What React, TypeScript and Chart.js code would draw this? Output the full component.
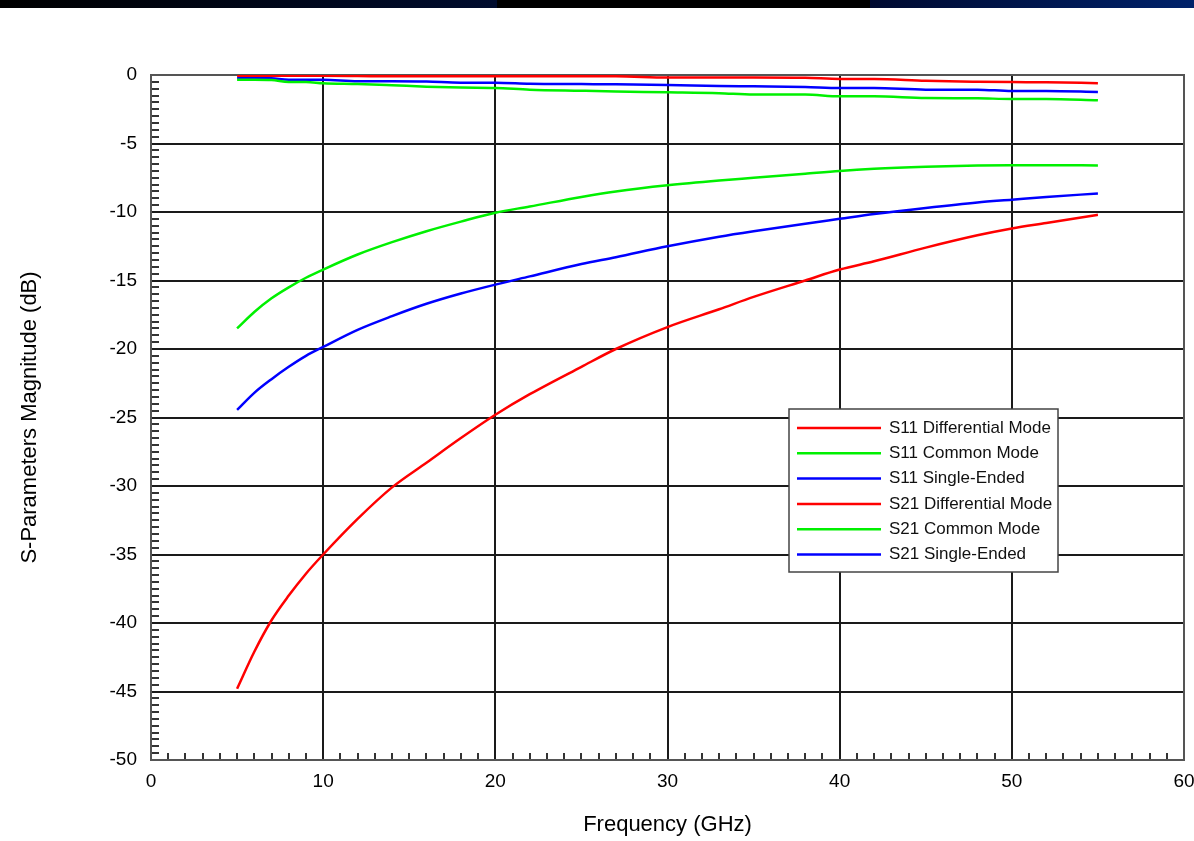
import React, { useEffect, useRef } from "react";
import { Chart, registerables } from "chart.js";

Chart.register(...registerables);

const FREQ = [5, 6, 7, 8, 9, 10, 12, 14, 16, 18, 20, 22, 25, 27, 30, 33, 35, 38, 40, 42, 45, 48, 50, 52, 55];

const S11_DIFF = [-0.05, -0.05, -0.05, -0.05, -0.05, -0.05, -0.07, -0.1, -0.1, -0.1, -0.1, -0.1, -0.1, -0.1, -0.18, -0.18, -0.18, -0.2, -0.29, -0.29, -0.42, -0.49, -0.52, -0.53, -0.6];
const S11_COMMON = [-0.34, -0.34, -0.36, -0.51, -0.51, -0.6, -0.66, -0.75, -0.85, -0.92, -0.95, -1.07, -1.15, -1.2, -1.26, -1.33, -1.43, -1.43, -1.56, -1.56, -1.68, -1.7, -1.75, -1.75, -1.85];
const S11_SINGLE = [-0.22, -0.22, -0.24, -0.34, -0.34, -0.34, -0.46, -0.46, -0.48, -0.56, -0.56, -0.63, -0.66, -0.68, -0.73, -0.8, -0.83, -0.88, -0.95, -0.95, -1.07, -1.07, -1.17, -1.17, -1.24];
const S21_DIFF = [-44.8, -42.1, -39.8, -38.0, -36.4, -35.0, -32.4, -30.1, -28.3, -26.5, -24.8, -23.3, -21.3, -20.0, -18.4, -17.1, -16.2, -15.0, -14.2, -13.6, -12.6, -11.7, -11.2, -10.8, -10.2];
const S21_COMMON = [-18.5, -17.3, -16.3, -15.5, -14.8, -14.2, -13.1, -12.2, -11.4, -10.7, -10.05, -9.6, -8.9, -8.5, -8.05, -7.7, -7.5, -7.2, -7.0, -6.85, -6.7, -6.6, -6.58, -6.58, -6.6];
const S21_SINGLE = [-24.45, -23.2, -22.2, -21.3, -20.5, -19.85, -18.6, -17.6, -16.7, -15.95, -15.3, -14.7, -13.8, -13.3, -12.5, -11.8, -11.4, -10.85, -10.5, -10.15, -9.7, -9.3, -9.1, -8.9, -8.65];

const SERIES_LABELS = [
  "S11 Differential Mode",
  "S11 Common Mode",
  "S11 Single-Ended",
  "S21 Differential Mode",
  "S21 Common Mode",
  "S21 Single-Ended",
];
const SERIES_VALUES = [S11_DIFF, S11_COMMON, S11_SINGLE, S21_DIFF, S21_COMMON, S21_SINGLE];
const SERIES_COLORS = ["#ff0000", "#00f000", "#0000ff", "#ff0000", "#00f000", "#0000ff"];

const X_MIN = 0, X_MAX = 60, X_STEP = 10, X_MINOR = 1;
const Y_MIN = -50, Y_MAX = 0, Y_STEP = 5, Y_MINOR = 0.5;

const FONT = "'Liberation Sans', Arial, sans-serif";

const framePlugin = {
  id: "frameAndMinor",
  beforeDatasetsDraw(chart: any) {
    const { ctx, chartArea } = chart;
    const xs = chart.scales.x;
    const ys = chart.scales.y;
    ctx.save();
    ctx.strokeStyle = "#333";
    ctx.lineWidth = 2;
    ctx.beginPath();
    for (let v = Y_MIN; v <= Y_MAX + 1e-9; v += Y_MINOR) {
      if (Math.abs(v / Y_STEP - Math.round(v / Y_STEP)) < 1e-6) continue;
      const py = Math.round(ys.getPixelForValue(v));
      ctx.moveTo(chartArea.left, py);
      ctx.lineTo(chartArea.left + 8, py);
    }
    for (let v = X_MIN; v <= X_MAX + 1e-9; v += X_MINOR) {
      if (Math.abs(v / X_STEP - Math.round(v / X_STEP)) < 1e-6) continue;
      const px = Math.round(xs.getPixelForValue(v));
      ctx.moveTo(px, chartArea.bottom);
      ctx.lineTo(px, chartArea.bottom - 7);
    }
    ctx.stroke();
    ctx.strokeStyle = "#555";
    ctx.lineWidth = 2;
    ctx.strokeRect(chartArea.left, chartArea.top, chartArea.right - chartArea.left, chartArea.bottom - chartArea.top);
    ctx.restore();
  },
  afterDraw(chart: any) {
    const { ctx, chartArea } = chart;
    const left = chartArea.right - 395;
    const top = chartArea.top + 334;
    const w = 269;
    const h = 163;
    ctx.save();
    ctx.fillStyle = "#fff";
    ctx.fillRect(left, top, w, h);
    ctx.strokeStyle = "#444";
    ctx.lineWidth = 1.5;
    ctx.strokeRect(left, top, w, h);
    ctx.font = `17px ${FONT}`;
    ctx.textBaseline = "middle";
    ctx.textAlign = "left";
    chart.data.datasets.forEach((ds: any, i: number) => {
      const y = top + 19 + i * 25.3;
      ctx.strokeStyle = ds.borderColor;
      ctx.lineWidth = 2.5;
      ctx.beginPath();
      ctx.moveTo(left + 8, y);
      ctx.lineTo(left + 92, y);
      ctx.stroke();
      ctx.fillStyle = "#111";
      ctx.fillText(ds.label, left + 100, y);
    });
    ctx.restore();
  },
};

export default function App() {
  const ref = useRef<HTMLCanvasElement | null>(null);
  useEffect(() => {
    if (!ref.current) return;
    const datasets = SERIES_LABELS.map((label, i) => ({
      label,
      data: FREQ.map((f, j) => ({ x: f, y: SERIES_VALUES[i][j] })),
      borderColor: SERIES_COLORS[i],
      backgroundColor: SERIES_COLORS[i],
      borderWidth: 2.5,
      pointRadius: 0,
      cubicInterpolationMode: "monotone" as const,
      fill: false,
    }));
    const chart = new Chart(ref.current, {
      type: "line",
      data: { datasets },
      plugins: [framePlugin],
      options: {
        animation: false,
        responsive: false,
        devicePixelRatio: 1,
        layout: { padding: { left: 0, right: 0, top: 75, bottom: 0 } },
        plugins: { legend: { display: false }, tooltip: { enabled: false } },
        scales: {
          x: {
            type: "linear",
            min: X_MIN,
            max: X_MAX,
            ticks: { stepSize: X_STEP, color: "#000", padding: 10, font: { family: FONT, size: 19 } },
            grid: { color: "#1a1a1a", lineWidth: 2, drawTicks: false },
            border: { display: true, color: "#555", width: 2 },
            title: {
              display: true,
              text: "Frequency (GHz)",
              color: "#000",
              font: { family: FONT, size: 22 },
              padding: { top: 0, bottom: 3 },
            },
            afterFit: (s: any) => { s.height = 81; s.paddingLeft = 0; s.paddingRight = 10; },
          },
          y: {
            type: "linear",
            min: Y_MIN,
            max: Y_MAX,
            ticks: { stepSize: Y_STEP, color: "#000", padding: 14, font: { family: FONT, size: 19 } },
            grid: { color: "#1a1a1a", lineWidth: 2, drawTicks: false },
            border: { display: true, color: "#555", width: 2 },
            title: {
              display: true,
              text: "S-Parameters Magnitude (dB)",
              color: "#000",
              font: { family: FONT, size: 22 },
              padding: { top: 17, bottom: 0 },
            },
            afterFit: (s: any) => { s.width = 151; s.paddingTop = 0; s.paddingBottom = 0; },
          },
        },
      },
    });
    return () => chart.destroy();
  }, []);

  return (
    <div style={{ position: "absolute", left: 0, top: 0, width: 1194, height: 841, background: "#fff" }}>
      <div style={{ position: "absolute", left: 0, top: 0, width: 497, height: 8, background: "linear-gradient(to right, #000000, #000c2e)" }} />
      <div style={{ position: "absolute", left: 497, top: 0, width: 373, height: 8, background: "#000" }} />
      <div style={{ position: "absolute", left: 870, top: 0, width: 324, height: 8, background: "linear-gradient(to right, #000a30, #00226a)" }} />
      <canvas ref={ref} width={1194} height={841} style={{ position: "absolute", left: 0, top: 0, width: 1194, height: 841 }} />
    </div>
  );
}
